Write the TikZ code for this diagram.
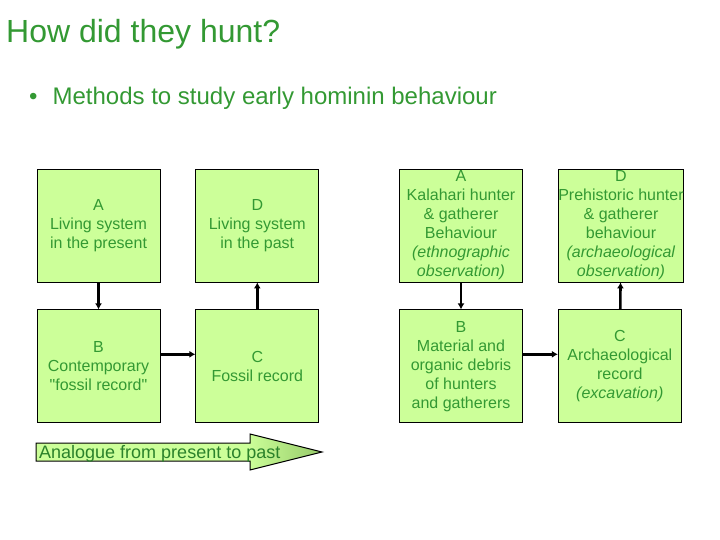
\documentclass[tikz,border=0pt]{standalone}
\usepackage{fontspec}
\setmainfont{Liberation Sans}
\usepackage{xcolor}
\usepackage{tikz}
\usetikzlibrary{arrows.meta,positioning}

\definecolor{boxfill}{RGB}{204,255,153}
\definecolor{hgreen}{RGB}{51,153,51}
\definecolor{headgreen}{RGB}{150,202,105}
\pgfdeclarehorizontalshading{analogueshade}{100bp}{color(0bp)=(boxfill); color(62bp)=(boxfill); color(75bp)=(headgreen); color(100bp)=(headgreen)}
\newcommand\straightquote{\XeTeXglyph\XeTeXcharglyph"22\relax}

\begin{document}
\begin{tikzpicture}[
    x=1pt, y=-1pt,
    node distance=27pt and 35pt,
    box/.style={rectangle, draw, line width=0.8pt, fill=boxfill, minimum width=123pt, minimum height=113pt, inner sep=0pt, align=center, text=hgreen, font=\fontsize{16}{19}\selectfont},
    arrow/.style={-{Latex[length=6pt,width=7pt]}, line width=2.6pt}
]
\useasboundingbox (0,0) rectangle (720,540);

\node[anchor=base west, inner sep=0pt, text=hgreen, font=\fontsize{32}{38}\selectfont] (title) at (6,43) {How did they hunt?};
\node[anchor=base west, inner sep=0pt, text=hgreen, font=\fontsize{24}{29}\selectfont] (bullet) at (29,105) {•\hspace{15pt}Methods to study early hominin behaviour};

% left group
\node[box] (lA) at (98.5,225.5) {A\\Living system\\in the present};
\node[box, right=of lA] (lD) {D\\Living system\\in the past};
\node[box, below=of lA] (lB) {B\\Contemporary\\\straightquote fossil record\straightquote};
\node[box, right=of lB] (lC) {C\\Fossil record};

% right group
\node[box] (rA) at (461,225.5) {A\\Kalahari hunter\\\& gatherer\\Behaviour\\\textit{(ethnographic}\\\textit{observation)}};
\node[box, right=of rA] (rD) {D\\Prehistoric hunter\\\& gatherer\\behaviour\\\textit{(archaeological}\\\textit{observation)}};
\node[box, below=of rA] (rB) {B\\Material and\\organic debris\\of hunters\\and gatherers};
\node[box, right=of rB] (rC) {C\\Archaeological\\record\\\textit{(excavation)}};

\draw[arrow] (lA) -- (lB);
\draw[arrow] ([yshift=12pt]lB.east) -- ([yshift=12pt]lC.west);
\draw[arrow] (lC) -- (lD);
\draw[arrow] (rA) -- (rB);
\draw[arrow] ([yshift=12pt]rB.east) -- ([yshift=12pt]rC.west);
\draw[arrow] (rC) -- (rD);

% big arrow
\draw[line width=1pt, shading=analogueshade] (36,443) -- (250,443) -- (250,434) -- (322,452) -- (250,470) -- (250,461) -- (36,461) -- cycle;
\node[anchor=base west, inner sep=0pt, text=hgreen!85!black, font=\fontsize{18}{21}\selectfont] (analogue) at (39,458) {Analogue from present to past};
\end{tikzpicture}
\end{document}
